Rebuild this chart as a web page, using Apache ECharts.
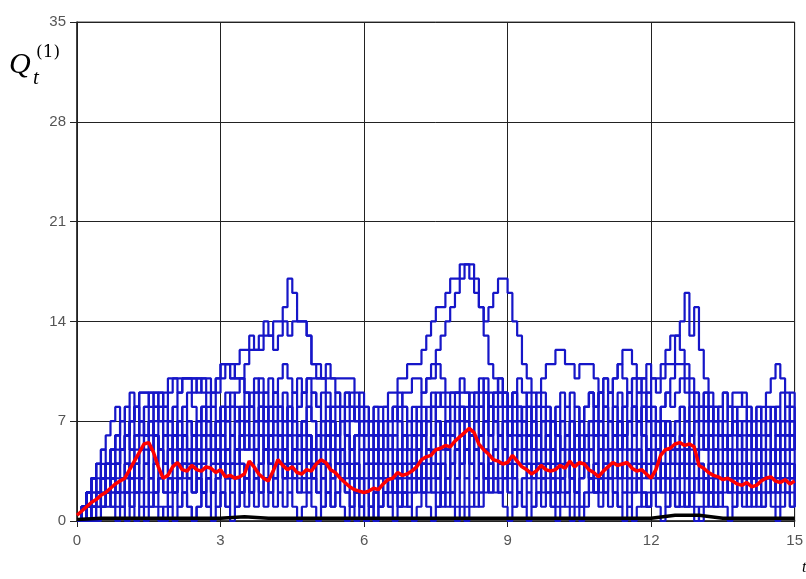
<!DOCTYPE html>
<html style="height: 100%">
<head>
    <meta charset="utf-8">
    <style>
        body{margin:0;background:#fff}
        #container{width:806px;height:579px}
    </style>
</head>
<body>
<div id="container"></div>
<script src="https://cdn.jsdelivr.net/npm/echarts@6/dist/echarts.min.js"></script>
<script type="text/javascript">
    // time step of the sampled paths (values every 0.1 of t, 0..15)
    var dt = 0.1;
    var xTicks = [0, 3, 6, 9, 12, 15];
    var yTicks = [0, 7, 14, 21, 28, 35];

    // blue sample paths Q_t, one value per 0.1
    var pathA = [0,1,2,2,3,4,3,4,5,5, 6,5,6,7,6,7,8,7,8,9, 10,10,10,10,10,9,10,10,9,10, 11,11,10,11,12,12,13,12,13,14,
                 13,14,14,15,17,16,14,14,13,11, 10,10,10,10,10,10,10,10,9,8, 7,6,7,6,5,6,5,4,5,4, 3,4,3,2,3,2,1,2,1,0,
                 1,0,1,2,1,2,3,2,3,4, 3,4,5,4,3,4,3,2,3,2, 1,2,1,0,1,0,1,2,3,2, 3,4,5,6,5,4,5,4,3,4,
                 5,4,3,2,3,2,1,2,1,0, 1,2,3,2,3,4,5,4,3,2, 3,2,3,4,3,2,1,2,3,2, 3];
    var pathB = [0,1,0,1,2,3,2,3,2,3, 4,3,4,5,4,5,6,5,4,5, 6,7,6,5,6,7,8,7,6,7, 8,9,8,9,10,9,8,7,8,7,
                 6,7,8,7,6,5,6,7,8,9, 8,9,8,7,6,7,6,5,6,7, 6,7,8,8,8,9,9,10,10,11, 11,11,12,13,14,15,15,16,17,17,
                 18,18,18,17,15,13,11,10,9,8, 7,8,7,6,5,6,5,4,5,4, 3,4,5,4,5,6,5,6,7,6, 5,4,3,4,3,2,3,2,1,2,
                 3,2,3,4,5,4,3,4,5,4, 5,6,5,4,5,4,3,2,3,2, 1,2,1,2,3,4,5,4,5,6, 5];
    var pathC = [0,0,1,2,1,2,3,2,1,2, 3,2,3,2,1,2,1,0,1,2, 3,4,3,4,5,4,5,6,5,4, 5,4,3,4,5,6,5,6,7,6,
                 5,6,5,4,3,4,3,2,3,4, 5,4,5,6,5,4,3,4,3,2, 3,4,5,6,7,6,7,8,9,9, 10,10,9,10,11,12,13,14,15,16,
                 17,18,17,16,15,14,15,16,17,17, 16,14,13,11,10,9,8,8,7,7, 6,5,6,5,4,3,4,3,2,3, 4,3,2,1,2,1,0,1,2,1,
                 2,3,4,3,2,3,2,1,2,3, 4,3,4,5,6,5,6,7,6,5, 4,5,4,3,4,3,2,3,2,1, 2];
    var pathD = [0,1,2,3,2,3,4,3,4,5, 6,7,8,7,6,7,8,9,8,7, 6,5,4,3,4,3,2,3,2,1, 2,1,2,3,2,3,4,3,4,5,
                 4,3,4,5,6,5,4,5,4,3, 2,3,2,1,2,3,2,1,0,1, 0,1,2,1,2,3,4,3,4,5, 4,5,6,5,6,7,6,5,4,5,
                 6,7,6,7,8,9,8,7,6,7, 6,5,4,5,4,3,4,5,6,5, 4,5,6,7,6,7,6,5,6,5, 6,7,8,7,8,9,10,9,10,11,
                 10,9,10,11,11,13,14,16,13,15, 12,10,9,8,8,7,6,7,6,5, 4,3,4,5,4,5,6,5,4,3, 4];
    var pathE = [0,1,2,1,2,3,2,3,4,3, 4,3,2,3,2,3,4,5,4,3, 2,1,2,1,0,1,2,3,2,3, 4,5,4,5,6,7,6,7,8,7,
                 8,9,8,7,8,7,6,7,6,5, 6,5,4,3,4,3,2,3,4,3, 2,1,2,1,2,3,2,3,4,3, 4,5,4,3,4,3,2,3,4,5,
                 4,5,6,5,6,7,8,7,8,9, 8,9,10,9,8,7,6,7,6,5, 6,5,4,5,6,5,4,3,4,5, 6,5,6,7,6,7,8,7,8,9,
                 10,10,11,12,13,13,12,11,10,9, 8,8,7,6,7,6,5,4,5,4, 3,4,5,4,3,2,3,4,3,4, 3];
    var pathF = [0,1,2,3,4,3,2,3,4,5, 6,7,8,9,9,8,9,9,8,7, 8,9,10,10,9,10,10,9,8,9, 10,11,11,10,10,11,12,12,12,13,
                 13,12,13,14,13,14,14,14,13,11, 11,10,9,8,8,8,7,8,7,6, 5,4,5,4,3,2,3,2,3,4, 5,6,7,8,9,8,9,8,9,9,
                 8,7,8,7,8,9,8,7,6,5, 6,7,6,5,6,5,4,3,4,3, 2,3,4,3,4,5,4,5,6,7, 8,9,10,11,12,12,11,10,9,8,
                 7,6,7,6,5,4,5,4,3,2, 3,2,1,2,1,2,3,4,3,4, 5,6,7,8,9,10,11,10,9,8, 8];
    var pathG = [0,0,1,0,1,2,1,2,3,2, 3,4,5,6,5,6,7,8,7,6, 5,6,5,4,5,6,7,6,5,6, 7,8,9,8,7,8,9,10,9,8,
                 7,8,7,6,7,6,5,6,5,4, 5,6,7,8,9,8,9,8,7,6, 5,4,3,4,3,2,3,2,1,2, 3,2,3,4,5,4,5,6,7,8,
                 7,8,9,8,9,10,9,8,9,8, 7,6,7,8,9,8,9,10,11,11, 12,12,11,11,10,11,11,11,10,9, 8,7,6,7,6,5,4,5,4,3,
                 4,3,2,3,2,1,2,1,2,1, 0,1,2,1,2,3,2,3,2,3, 4,3,4,5,6,5,4,5,6,7, 6];
    var pathH = [0,1,2,3,4,5,6,7,8,7, 8,9,8,9,9,9,9,8,9,10, 10,9,10,10,10,10,9,8,9,10, 11,11,10,10,10,9,8,7,8,7,
                 6,7,6,5,6,7,8,9,10,10, 10,10,11,10,9,8,9,8,7,8, 7,6,5,4,5,4,3,4,5,6, 7,8,9,10,10,11,10,9,9,9,
                 9,9,8,7,6,5,6,5,4,3, 4,3,4,5,6,7,8,7,6,7, 8,7,8,9,8,7,8,9,8,7, 6,5,6,7,8,9,10,10,10,9,
                 8,7,6,5,4,5,6,7,8,9, 8,9,8,7,8,9,8,9,9,8, 7,6,5,6,7,8,7,6,7,8, 7];
    var pathI = [0,1,2,3,2,1,2,1,0,1, 2,1,2,3,4,5,4,3,2,3, 2,3,2,1,0,1,2,1,2,3, 2,1,0,1,2,3,2,3,4,3,
                 2,3,2,1,2,1,0,1,2,3, 4,3,4,5,4,3,2,1,2,1, 0,1,0,1,2,3,2,1,2,3, 2,3,4,3,4,5,6,5,4,3,
                 2,1,2,3,2,3,4,3,2,1, 0,1,2,3,2,1,2,3,4,3, 2,3,2,1,2,1,2,3,2,3, 4,5,4,3,2,3,4,3,2,1,
                 2,1,0,1,2,3,4,3,2,3, 4,3,2,1,2,1,0,1,2,1, 2,3,2,1,2,3,4,3,2,1, 2];
    var pathJ = [0,1,2,3,4,5,4,5,6,7, 6,7,8,7,6,5,6,5,4,5, 6,7,8,7,6,5,4,5,6,5, 4,5,6,7,8,9,8,7,6,5,
                 4,5,4,3,4,5,6,7,6,5, 4,3,2,3,4,5,6,7,8,7, 6,5,6,7,6,5,4,5,6,7, 6,5,6,7,8,7,6,7,6,5,
                 6,5,4,5,6,7,6,7,8,7, 6,5,6,7,8,7,6,5,6,7, 8,9,8,7,6,7,6,7,8,9, 8,7,6,5,6,7,8,7,6,5,
                 6,7,8,9,8,9,10,9,8,7, 6,7,6,5,4,5,6,7,8,9, 8,7,8,7,6,5,6,7,8,9, 8];
    var pathK = [0,1,2,1,2,3,4,3,2,3, 2,3,4,3,4,5,6,7,6,7, 8,7,6,7,6,7,8,7,6,5, 6,5,4,3,4,3,2,3,2,1,
                 2,1,2,3,4,3,4,5,6,5, 6,7,6,5,4,5,4,3,2,1, 2,1,0,1,2,1,2,3,2,3, 4,3,2,3,2,1,2,1,2,3,
                 4,5,6,7,6,7,8,9,10,9, 8,9,8,7,8,7,6,5,6,5, 4,3,4,3,2,1,2,3,4,5, 4,3,4,5,6,5,4,3,4,5,
                 4,5,6,5,4,3,4,3,2,3, 2,3,4,5,6,7,8,8,7,6, 7,6,5,4,5,4,3,4,5,6, 5];
    var pathL = [0,1,0,1,2,1,2,3,2,1, 0,1,2,1,0,1,2,3,4,3, 4,5,4,3,2,3,2,1,0,1, 2,3,4,5,4,3,4,5,6,7,
                 8,7,6,5,4,5,6,5,4,3, 2,1,2,3,2,3,4,5,6,5, 4,3,4,3,2,1,0,1,2,1, 0,1,2,3,2,3,4,5,6,7,
                 6,5,4,3,4,5,4,3,2,3, 2,3,2,1,2,3,2,1,2,1, 0,1,2,3,4,5,6,5,4,3, 2,3,2,1,0,1,2,3,2,1,
                 2,3,2,1,2,1,2,3,4,5, 6,5,4,3,4,3,4,5,6,5, 4,3,2,1,2,1,0,1,2,3, 2];
    var pathM = [0,1,2,3,2,3,4,5,6,5, 4,3,4,3,2,1,2,1,0,1, 2,3,4,5,4,5,6,5,4,3, 4,3,2,1,2,1,2,3,2,3,
                 4,5,6,5,4,5,4,3,2,1, 0,1,2,1,2,1,0,1,2,3, 4,5,4,5,6,7,8,7,6,5, 6,7,6,5,4,3,4,3,2,3,
                 4,3,2,1,2,3,2,3,4,5, 4,5,6,5,4,3,4,5,4,3, 4,5,4,5,6,5,4,3,2,1, 2,1,2,3,4,3,2,3,4,5,
                 6,5,6,7,6,7,8,7,6,7, 6,5,6,5,4,3,2,3,4,5, 6,5,6,7,6,7,6,5,4,5, 6];
    var pathN = [0,1,2,1,2,3,2,3,4,5, 6,5,6,7,8,7,6,5,6,5, 4,3,4,3,2,3,2,3,4,5, 6,7,6,7,8,7,8,9,10,9,
                 8,9,10,11,10,9,8,9,8,7, 6,5,6,5,4,3,4,3,4,5, 6,7,6,5,4,3,2,1,2,1, 2,3,2,1,0,1,2,3,2,1,
                 2,3,4,5,4,3,4,5,6,7, 6,7,8,7,6,7,8,9,8,7, 6,5,4,3,2,3,4,3,2,3, 4,3,4,5,4,5,6,7,6,7,
                 8,7,6,7,6,5,4,5,6,5, 4,3,2,3,2,3,2,1,2,3, 2,3,4,3,4,5,4,5,6,5, 4];
    var pathO = [0,1,0,1,0,1,2,1,2,1, 2,3,2,3,4,3,4,5,4,5, 4,5,6,5,6,7,6,7,6,7, 8,7,8,7,6,5,6,5,4,5,
                 6,5,4,3,2,3,2,3,4,3, 4,5,6,7,6,7,8,9,8,9, 8,7,8,7,6,7,8,7,8,7, 6,5,4,5,4,3,2,3,4,5,
                 6,7,6,5,6,5,4,5,6,7, 8,9,8,7,6,5,4,3,2,3, 2,3,4,5,6,7,8,9,8,7, 6,7,8,9,8,7,6,5,6,5,
                 4,5,4,3,4,5,6,5,6,7, 8,7,6,7,6,5,4,3,4,3, 2,1,2,3,4,3,2,3,4,3, 4];
    var pathP = [0,1,2,3,2,3,2,3,4,3, 2,1,0,1,2,3,2,3,2,1, 0,1,2,3,4,3,2,3,4,5, 4,3,4,5,6,5,6,7,6,5,
                 6,7,8,7,8,9,10,9,10,9, 8,7,6,7,6,5,4,3,2,1, 2,3,2,3,4,5,6,5,6,5, 4,3,4,5,6,7,6,7,8,7,
                 8,7,6,5,4,3,4,3,2,3, 2,1,2,1,0,1,2,3,2,1, 2,3,2,3,4,5,6,7,8,9, 10,9,8,7,6,7,8,9,8,7,
                 6,7,8,9,10,11,11,10,9,8, 7,8,7,8,7,6,5,6,5,4, 3,4,3,2,3,4,5,6,7,6, 5];
    var pathQ = [0,1,2,3,2,3,4,5,4,5, 6,7,6,7,8,9,8,7,6,5, 4,5,6,5,4,3,4,5,6,7, 6,5,6,5,4,3,2,1,2,3,
                 2,3,4,5,4,5,6,7,8,7, 6,7,8,7,6,5,4,5,4,3, 4,5,6,7,8,7,8,9,8,7, 8,7,6,7,8,7,6,5,6,7,
                 6,5,6,7,8,7,8,7,6,5, 4,5,6,7,6,5,6,7,8,7, 6,7,6,5,4,5,6,7,6,5, 4,5,6,5,6,7,6,7,8,7,
                 6,7,6,5,6,7,8,7,8,7, 8,9,8,7,6,7,8,7,6,7, 6,7,8,7,8,7,8,9,8,7, 8];
    var pathR = [0,1,2,3,4,3,4,5,6,7, 8,7,8,7,6,7,6,5,4,5, 6,7,8,9,8,7,8,7,6,7, 8,7,6,5,6,7,8,9,8,9,
                 10,9,8,9,8,7,6,5,4,5, 6,5,6,7,8,7,6,5,6,7, 8,7,6,5,6,5,6,7,6,5, 4,5,6,7,8,9,8,7,8,9,
                 10,9,8,9,10,9,8,9,10,9, 8,7,8,7,6,7,6,5,6,7, 6,5,6,7,8,7,8,9,8,9, 10,9,10,11,10,9,8,7,8,7,
                 6,5,4,5,6,7,6,7,6,5, 6,7,8,7,8,9,8,7,6,7, 8,7,6,5,6,7,6,7,8,7, 6];
    var pathS = [0,1,0,1,2,3,2,3,2,3, 4,5,4,5,6,7,6,5,6,7, 6,5,6,7,6,5,6,7,8,7, 6,7,8,7,6,7,6,5,6,5,
                 6,7,6,7,8,7,6,7,6,5, 4,5,6,5,6,7,6,5,4,3, 2,3,4,5,6,5,4,5,6,5, 6,7,8,7,6,5,6,7,6,7,
                 8,7,8,9,8,7,6,7,6,5, 6,7,6,5,6,5,6,7,6,5, 6,7,6,7,6,5,6,7,6,7, 8,7,6,7,6,7,8,7,6,5,
                 4,5,6,7,6,5,6,5,6,7, 6,5,6,7,6,5,6,7,6,5, 6,5,6,7,6,7,8,7,6,7, 6];
    var pathT = [0,1,2,1,2,1,2,3,2,3, 4,3,4,5,4,3,2,3,2,3, 2,3,4,3,2,3,4,3,2,3, 4,3,4,3,2,3,4,3,4,5,
                 4,3,4,3,4,3,2,3,4,3, 2,3,4,3,4,5,4,3,2,3, 2,1,2,3,2,3,2,3,4,3, 4,3,4,5,4,3,4,3,4,5,
                 4,5,4,3,4,3,2,3,4,3, 4,3,2,3,4,5,4,3,4,5, 4,3,4,3,2,3,4,3,4,3, 2,3,4,3,4,3,4,5,4,3,
                 4,3,4,3,2,3,4,5,4,3, 2,3,2,3,4,3,4,3,2,3, 4,3,4,3,2,3,2,3,4,3, 4];

    var bluePaths = [pathA, pathB, pathC, pathD, pathE, pathF, pathG, pathH, pathI, pathJ,
                     pathK, pathL, pathM, pathN, pathO, pathP, pathQ, pathR, pathS, pathT];

    // red: mean of the paths, one value per 0.1
    var meanPath = [0.4,0.7,1.0,1.3,1.5,1.8,2.0,2.3,2.6,2.8, 3.0,3.6,4.2,4.8,5.4,5.5,4.8,3.8,3.0,3.2,
                    3.8,4.1,3.6,3.5,3.9,3.6,3.5,3.8,3.7,3.4, 3.6,3.1,3.2,3.0,3.1,3.3,4.2,3.8,3.3,3.0,
                    2.8,3.5,4.3,3.9,3.6,3.8,3.4,3.3,3.6,3.5, 4.0,4.3,4.1,3.6,3.4,3.0,2.7,2.4,2.2,2.1,
                    2.0,2.1,2.3,2.2,2.6,2.9,3.0,3.4,3.2,3.3, 3.5,3.8,4.3,4.5,4.6,5.0,5.1,5.3,5.2,5.6,
                    5.9,6.2,6.5,6.2,5.4,5.0,4.7,4.3,4.2,4.0, 4.1,4.6,4.2,3.8,3.6,3.3,3.5,3.9,3.6,3.5,
                    3.6,3.9,3.7,4.2,3.8,4.1,4.0,3.6,3.4,3.1, 3.5,3.8,4.1,3.9,4.0,4.1,3.7,3.5,3.6,3.3,
                    3.0,3.6,4.6,5.0,5.1,5.4,5.5,5.3,5.4,5.2, 3.9,3.7,3.4,3.2,3.1,2.9,3.0,2.8,2.6,2.5,
                    2.7,2.4,2.5,2.8,3.0,3.1,2.8,2.7,2.9,2.6, 2.8];

    // black line near zero, one value per 0.5
    var blackStep = 0.5;
    var blackPath = [0.1,0.2,0.2,0.2,0.2,0.2,0.2,0.3,0.2,0.2, 0.2,0.2,0.2,0.2,0.2,0.2,0.2,0.2,0.2,0.2,
                     0.2,0.2,0.2,0.2,0.2,0.4,0.4,0.2,0.2,0.2, 0.2];

    function toPairs(arr, step) {
        return arr.map(function (v, i) { return [+(i * step).toFixed(2), v]; });
    }

    var series = [];
    bluePaths.forEach(function (p) {
        series.push({
            type: 'line',
            step: 'end',
            data: toPairs(p, dt),
            symbol: 'none',
            lineStyle: {color: '#1616c8', width: 2.2},
            silent: true,
            z: 2
        });
    });
    series.push({
        type: 'line',
        data: toPairs(blackPath, blackStep),
        symbol: 'none',
        lineStyle: {color: '#000', width: 3.5},
        z: 3
    });
    series.push({
        type: 'line',
        data: toPairs(meanPath, dt),
        symbol: 'none',
        lineStyle: {color: '#ff0000', width: 3.5},
        z: 4
    });

    var myChart = echarts.init(document.getElementById('container'));
    var option = {
        animation: false,
        backgroundColor: '#fff',
        grid: {left: 77, right: 9, top: 22, bottom: 58, show: true, borderColor: '#444', borderWidth: 1},
        xAxis: {
            type: 'value',
            min: xTicks[0],
            max: xTicks[xTicks.length - 1],
            interval: 3,
            axisLine: {lineStyle: {color: '#222', width: 1.5}},
            axisTick: {length: 6, lineStyle: {color: '#222'}},
            axisLabel: {color: '#555', fontSize: 15, fontFamily: 'Liberation Sans', margin: 12},
            splitLine: {show: true, lineStyle: {color: '#222', width: 1}}
        },
        yAxis: {
            type: 'value',
            min: yTicks[0],
            max: yTicks[yTicks.length - 1],
            interval: 7,
            axisLine: {show: true, lineStyle: {color: '#222', width: 1.5}},
            axisTick: {show: true, length: 7, lineStyle: {color: '#222'}},
            axisLabel: {color: '#555', fontSize: 15, fontFamily: 'Liberation Sans', margin: 11},
            splitLine: {show: true, lineStyle: {color: '#222', width: 1}}
        },
        graphic: [
            {type: 'text', left: 9, top: 50, style: {text: 'Q', font: 'italic 30px "Liberation Serif"', fill: '#000'}},
            {type: 'text', left: 33, top: 68, style: {text: 't', font: 'italic 21px "Liberation Serif"', fill: '#000'}},
            {type: 'text', left: 36, top: 44, style: {text: '(1)', font: '17px "DejaVu Serif"', fill: '#000'}},
            {type: 'text', left: 802, top: 560, style: {text: 't', font: 'italic 16px "Liberation Serif"', fill: '#000'}}
        ],
        series: series
    };
    myChart.setOption(option);
</script>
</body>
</html>
